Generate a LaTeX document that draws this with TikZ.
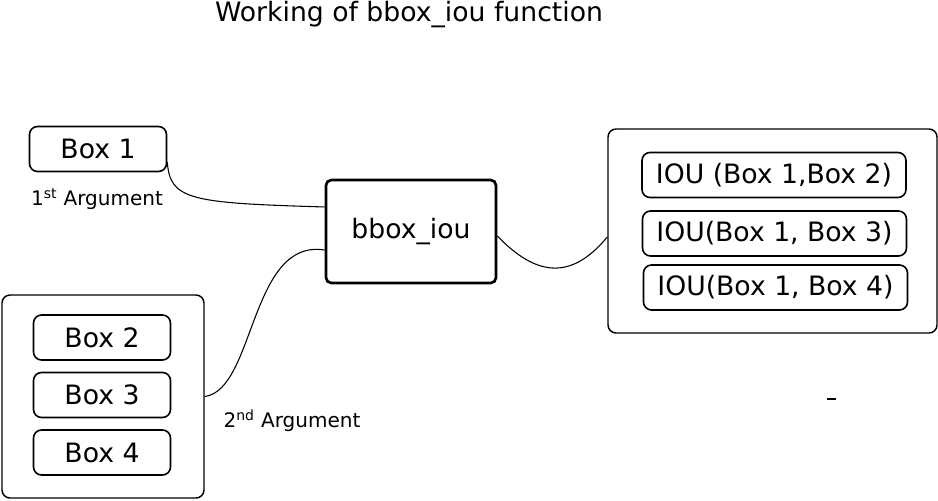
\documentclass[tikz,border=0pt]{standalone}
\usepackage{fontspec}
\setmainfont{DejaVu Sans}
\tikzset{
  pill/.style={draw, line width=1.2pt, rounded corners=6pt, minimum width=102.75pt,
    minimum height=33.75pt, inner sep=0pt, font=\fontsize{20}{24}\selectfont},
  holder/.style={draw, line width=1.1pt, rounded corners=6pt, inner sep=0pt},
  wire/.style={line width=0.8pt},
  argnote/.style={font=\fontsize{15}{18}\selectfont}
}
\begin{document}
\begin{tikzpicture}[x=0.75pt,y=-0.75pt]
\useasboundingbox (0,0) rectangle (938,500);
\node[font=\fontsize{20}{24}\selectfont] (title) at (409,15) {Working of bbox\_iou function};
% first argument
\node[pill] (box1) at (98,149) {Box 1};
\node[argnote] (arg1) at (97,199) {1\textsuperscript{st} Argument};
% second argument
\node[holder, minimum width=151.5pt, minimum height=152.25pt] (left) at (103,396.5) {};
\foreach \n/\y in {2/337.5,3/395,4/452.5} \node[pill] (box\n) at (102,\y) {Box \n};
\node[argnote] (arg2) at (292,421) {2\textsuperscript{nd} Argument};
% the function
\node[draw, line width=2pt, rounded corners=4pt, minimum width=127.5pt, minimum height=77.25pt,
  font=\fontsize{20}{24}\selectfont] (bbox) at (411,231.5) {bbox\_iou};
% results
\node[holder, minimum width=246.75pt, minimum height=153pt] (right) at (772.5,231) {};
\node[pill, minimum width=198pt] (iou2) at (774,175) {IOU (Box 1,Box 2)};
\node[pill, minimum width=198pt] (iou3) at (774.5,233.5) {IOU(Box 1, Box 3)};
\node[pill, minimum width=198pt] (iou4) at (775.5,287.5) {IOU(Box 1, Box 4)};
\draw[line width=1.2pt] (827,399) -- (836,399);
% connectors
\draw[wire] ([yshift=-9.75pt]box1.east) .. controls (170,200) and (190,203) .. ([yshift=18.4pt]bbox.west);
\draw[wire] (left.east) .. controls (255,390) and (250,238) .. ([yshift=-13.9pt]bbox.west);
\draw[wire] ([yshift=-3.4pt]bbox.east) .. controls (535,275) and (570,282) .. ([yshift=-4.5pt]right.west);
\end{tikzpicture}
\end{document}
